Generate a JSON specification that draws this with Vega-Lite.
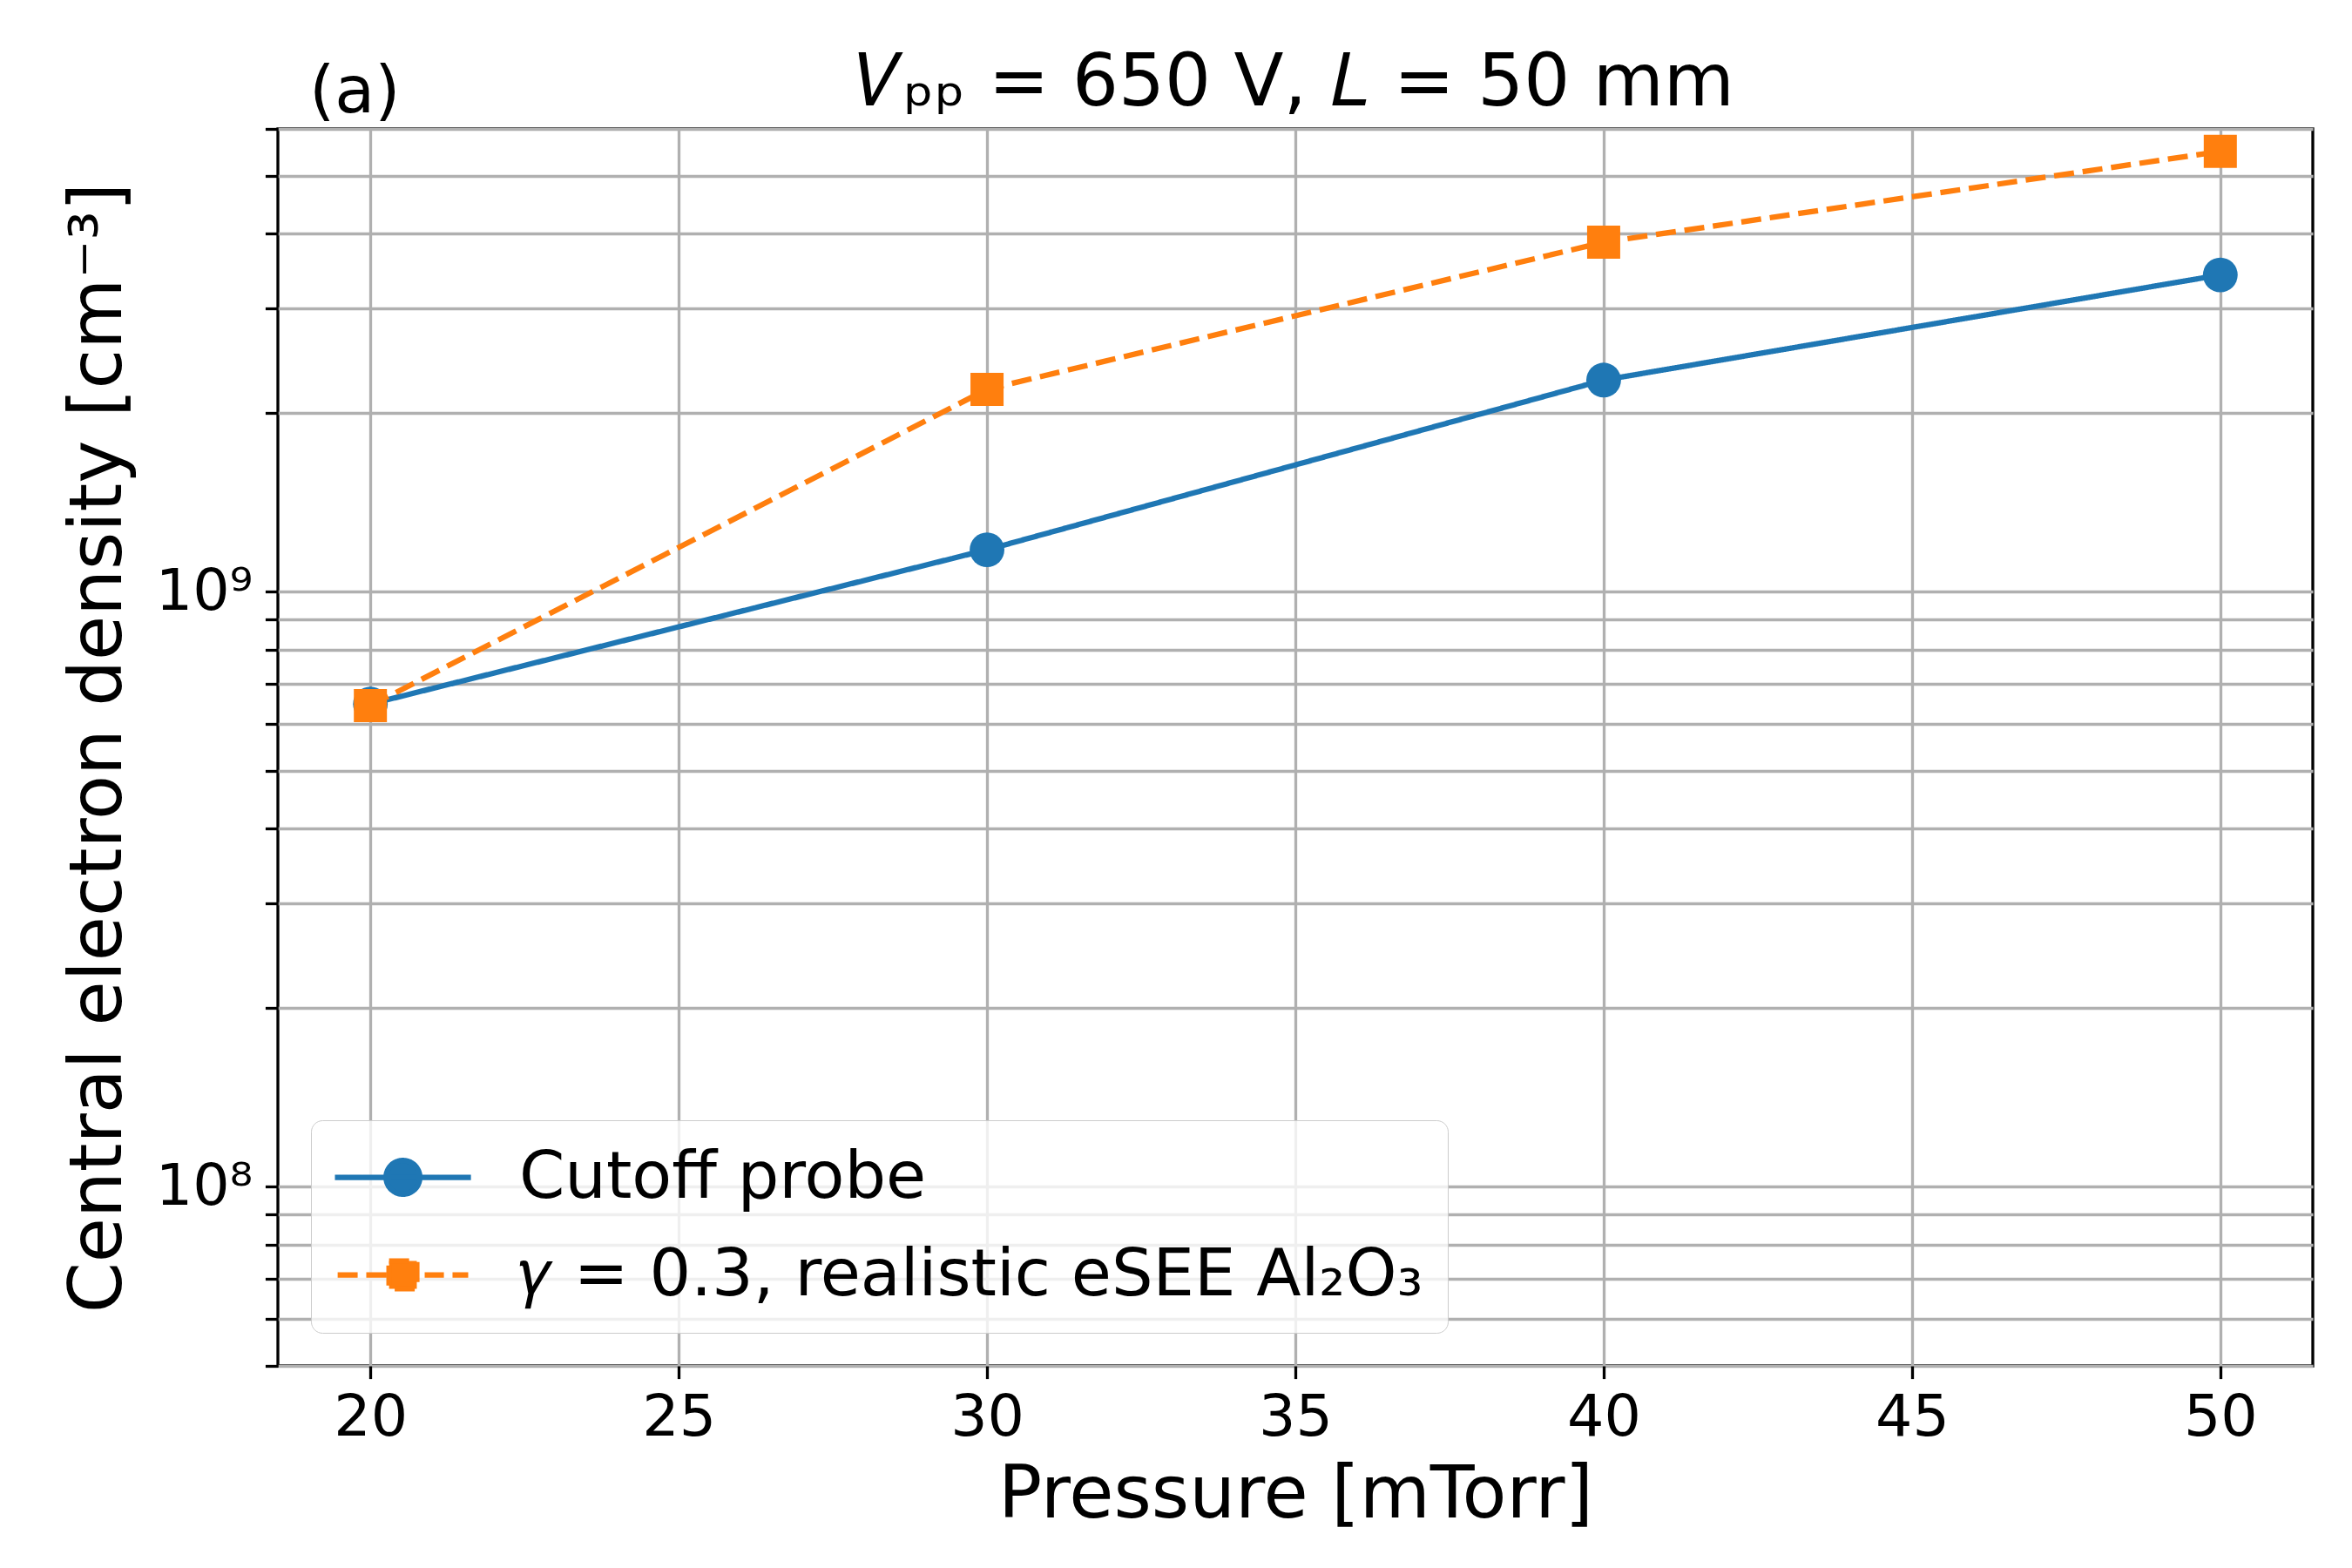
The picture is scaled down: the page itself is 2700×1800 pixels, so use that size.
{
  "$schema": "https://vega.github.io/schema/vega-lite/v6.json",
  "width": 2336,
  "height": 1420,
  "autosize": "none",
  "padding": {"left": 319, "top": 148, "right": 45, "bottom": 232},
  "background": "white",
  "config": {
    "font": "DejaVu Sans",
    "view": {"stroke": "black", "strokeWidth": 3.3},
    "axis": {
      "domain": false,
      "grid": true,
      "gridColor": "#b0b0b0",
      "gridWidth": 3.3,
      "tickColor": "black",
      "tickWidth": 3.3,
      "tickSize": 14.6,
      "labelFont": "DejaVu Sans",
      "labelFontSize": 66.7,
      "labelColor": "black",
      "titleFont": "DejaVu Sans",
      "titleFontSize": 83.3,
      "titleFontWeight": "normal",
      "titleColor": "black"
    }
  },
  "title": {
    "text": "𝑉ₚₚ = 650 V, 𝐿 = 50 mm",
    "font": "DejaVu Sans",
    "fontSize": 83.3,
    "fontWeight": "normal",
    "color": "black",
    "anchor": "middle",
    "frame": "group",
    "baseline": "alphabetic",
    "offset": -135
  },
  "data": {
    "values": [
      {"p": 20, "n": 6.48e8, "s": "Cutoff probe"},
      {"p": 30, "n": 1.177e9, "s": "Cutoff probe"},
      {"p": 40, "n": 2.27e9, "s": "Cutoff probe"},
      {"p": 50, "n": 3.41e9, "s": "Cutoff probe"},
      {"p": 20, "n": 6.44e8, "s": "𝛾 = 0.3, realistic eSEE Al₂O₃"},
      {"p": 30, "n": 2.19e9, "s": "𝛾 = 0.3, realistic eSEE Al₂O₃"},
      {"p": 40, "n": 3.87e9, "s": "𝛾 = 0.3, realistic eSEE Al₂O₃"},
      {"p": 50, "n": 5.5e9, "s": "𝛾 = 0.3, realistic eSEE Al₂O₃"}
    ]
  },
  "layer": [
    {
      "mark": {"type": "point", "filled": true, "opacity": 0},
      "encoding": {
        "x": {
          "field": "p", "type": "quantitative",
          "scale": {"domain": [18.5, 51.5], "nice": false, "zero": false},
          "axis": {"values": [20, 25, 30, 35, 40, 45, 50], "format": "d", "title": "Pressure [mTorr]", "labelPadding": 12, "titlePadding": 14}
        },
        "y": {
          "field": "n", "type": "quantitative",
          "scale": {"type": "log", "domain": [5e7, 6e9], "nice": false},
          "axis": {
            "values": [5e7, 6e7, 7e7, 8e7, 9e7, 1e8, 2e8, 3e8, 4e8, 5e8, 6e8, 7e8, 8e8, 9e8, 1e9, 2e9, 3e9, 4e9, 5e9, 6e9],
            "labelExpr": "datum.value == 1e8 ? '10⁸' : datum.value == 1e9 ? '10⁹' : ''",
            "title": "Central electron density [cm⁻³]",
            "labelPadding": 14.6,
            "titlePadding": 23,
            "labelFlush": false,
            "labelOverlap": false,
            "encode": {
              "ticks": {
                "x2": {"condition": {"test": "datum.value == 1e8 || datum.value == 1e9", "value": -14.6}, "value": -8.3},
                "strokeWidth": {"condition": {"test": "datum.value == 1e8 || datum.value == 1e9", "value": 3.3}, "value": 2.5}
              }
            }
          }
        },
        "color": {
          "field": "s", "type": "nominal",
          "scale": {"domain": ["Cutoff probe", "𝛾 = 0.3, realistic eSEE Al₂O₃"], "range": ["#1f77b4", "#ff7f0e"]},
          "legend": {
            "title": null,
            "orient": "bottom-left",
            "offset": 38,
            "padding": 28,
            "labelFont": "DejaVu Sans",
            "labelFontSize": 75,
            "labelColor": "black",
            "labelLimit": 0,
            "labelOffset": 136,
            "rowPadding": 36,
            "symbolSize": 2025,
            "symbolStrokeWidth": 6.25,
            "symbolOpacity": 1,
            "fillColor": "rgba(255,255,255,0.8)",
            "strokeColor": "#cccccc",
            "cornerRadius": 13,
            "encode": {"legend": {"strokeWidth": {"value": 3.3}}}
          }
        },
        "stroke": {
          "field": "s", "type": "nominal",
          "scale": {"domain": ["Cutoff probe", "𝛾 = 0.3, realistic eSEE Al₂O₃"], "range": ["#1f77b4", "#ff7f0e"]}
        },
        "shape": {
          "field": "s", "type": "nominal",
          "scale": {
            "domain": ["Cutoff probe", "𝛾 = 0.3, realistic eSEE Al₂O₃"],
            "range": [
              "M-1.69,0H5.25M0.92,0A0.86,0.86,0,1,0,2.64,0A0.86,0.86,0,1,0,0.92,0Z",
              "M-1.55,0H-0.53M-0.09,0H0.94M2.89,0H3.87M4.31,0H5.11M1.073,-0.707H2.487V0.707H1.073Z"
            ]
          }
        }
      }
    },
    {
      "mark": {"type": "line", "strokeWidth": 6.25},
      "encoding": {
        "x": {"field": "p", "type": "quantitative"},
        "y": {"field": "n", "type": "quantitative"},
        "color": {"field": "s", "type": "nominal", "legend": null},
        "strokeDash": {
          "field": "s", "type": "nominal",
          "scale": {"domain": ["Cutoff probe", "𝛾 = 0.3, realistic eSEE Al₂O₃"], "range": [[1, 0], [23, 10]]},
          "legend": null
        }
      }
    },
    {
      "mark": {"type": "point", "filled": true, "opacity": 1},
      "encoding": {
        "x": {"field": "p", "type": "quantitative"},
        "y": {"field": "n", "type": "quantitative"},
        "shape": {"condition": {"test": "datum.s === 'Cutoff probe'", "value": "circle"}, "value": "square"},
        "size": {"condition": {"test": "datum.s === 'Cutoff probe'", "value": 1590}, "value": 1444},
        "color": {"field": "s", "type": "nominal", "legend": null}
      }
    },
    {
      "data": {"values": [{"t": "(a)"}]},
      "mark": {"type": "text", "align": "left", "baseline": "alphabetic", "fontSize": 75, "font": "DejaVu Sans", "color": "black"},
      "encoding": {
        "text": {"field": "t"},
        "x": {"datum": 19.01},
        "y": {"datum": 6.4e9}
      }
    }
  ]
}
